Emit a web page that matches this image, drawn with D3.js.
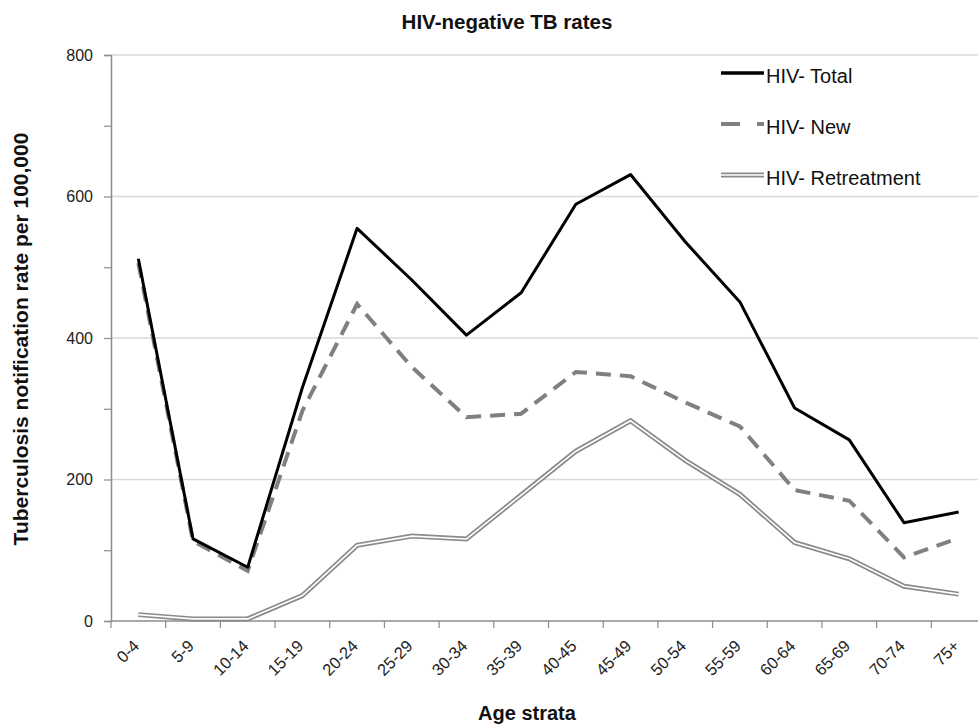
<!DOCTYPE html>
<html><head><meta charset="utf-8">
<script src="https://cdn.jsdelivr.net/npm/d3@7"></script>
<style>body{margin:0;background:#fff;} text{font-family:"Liberation Sans",Arial,sans-serif;}</style>
</head><body><svg id="c" width="978" height="726"></svg>
<script>
const categories = ["0-4","5-9","10-14","15-19","20-24","25-29","30-34","35-39","40-45","45-49","50-54","55-59","60-64","65-69","70-74","75+"];
const totalVals = [512,116,76,330,555,482,404,464,589,631,536,451,301,256,139,154];
const newVals = [506,113,71,297,448,359,288,293,352,346,309,275,185,170,90,117];
const retreatVals = [9,3,3,36,107,120,116,178,240,283,227,179,111,88,49,38];
const yTicks = [0,200,400,600,800];
const seriesNames = ["HIV- Total","HIV- New","HIV- Retreatment"];

const svg = d3.select("#c");
const mLeft = 111, mRight = 986, mTop = 55, mBottom = 621;
const x = d3.scaleBand().domain(categories).range([mLeft, mRight]).padding(0);
const y = d3.scaleLinear().domain([0, 800]).range([mBottom, mTop]);

// gridlines
svg.append("g").selectAll("line").data(yTicks.filter(d => d > 0)).join("line")
  .attr("x1", mLeft).attr("x2", mRight).attr("y1", d => y(d)).attr("y2", d => y(d))
  .attr("stroke", "#d9d9d9").attr("stroke-width", 1.5);

// y axis
const yAxis = d3.axisLeft(y).tickValues(d3.range(0, 801, 100)).tickSize(7)
  .tickFormat(d => yTicks.includes(d) ? d : "");
const gy = svg.append("g").attr("transform", `translate(${mLeft},0)`).call(yAxis);
gy.attr("font-size", null).attr("font-family", null);
gy.select(".domain").attr("stroke", "#8c8c8c").attr("stroke-width", 1.5);
gy.selectAll(".tick line").attr("stroke", "#8c8c8c").attr("stroke-width", 1.2);
gy.selectAll(".tick text").attr("font-size", 16).attr("fill", "#222").attr("x", -18);

// x axis
const gx = svg.append("g").attr("transform", `translate(0,${mBottom})`);
gx.append("line").attr("x1", mLeft).attr("x2", mRight).attr("stroke", "#8c8c8c").attr("stroke-width", 1.5);
gx.selectAll("line.tk").data(d3.range(categories.length + 1)).join("line").attr("class", "tk")
  .attr("x1", i => mLeft + i * x.bandwidth()).attr("x2", i => mLeft + i * x.bandwidth())
  .attr("y1", 0).attr("y2", 7).attr("stroke", "#8c8c8c").attr("stroke-width", 1.2);
gx.selectAll("text").data(categories).join("text")
  .attr("transform", d => `translate(${x(d) + x.bandwidth() / 2 + 2},${26}) rotate(-45)`)
  .attr("text-anchor", "end").attr("font-size", 16.5).attr("fill", "#222").text(d => d);

const line = d3.line().x((d, i) => x(categories[i]) + x.bandwidth() / 2).y(d => y(d));

// retreatment (double line)
svg.append("path").datum(retreatVals).attr("d", line).attr("fill", "none")
  .attr("stroke", "#8a8a8a").attr("stroke-width", 5);
svg.append("path").datum(retreatVals).attr("d", line).attr("fill", "none")
  .attr("stroke", "#fff").attr("stroke-width", 1.6);
// new (dashed)
svg.append("path").datum(newVals).attr("d", line).attr("fill", "none")
  .attr("stroke", "#808080").attr("stroke-width", 4).attr("stroke-dasharray", "15,9");
// total
svg.append("path").datum(totalVals).attr("d", line).attr("fill", "none")
  .attr("stroke", "#000").attr("stroke-width", 3).attr("stroke-linejoin", "round");

// legend
const lg = svg.append("g");
const ly = [73, 124, 175];
lg.append("line").attr("x1", 721).attr("x2", 764).attr("y1", ly[0]).attr("y2", ly[0]).attr("stroke", "#000").attr("stroke-width", 3.5);
lg.append("line").attr("x1", 721).attr("x2", 764).attr("y1", ly[1]).attr("y2", ly[1]).attr("stroke", "#808080").attr("stroke-width", 4).attr("stroke-dasharray", "19,17,7");
lg.append("line").attr("x1", 721).attr("x2", 764).attr("y1", ly[2]).attr("y2", ly[2]).attr("stroke", "#8a8a8a").attr("stroke-width", 5);
lg.append("line").attr("x1", 721).attr("x2", 764).attr("y1", ly[2]).attr("y2", ly[2]).attr("stroke", "#fff").attr("stroke-width", 1.6);
lg.selectAll("text").data(seriesNames).join("text")
  .attr("x", 766).attr("y", (d, i) => ly[i] + 9.5).attr("font-size", 20).attr("fill", "#111").text(d => d);

// titles
svg.append("text").attr("x", 507).attr("y", 28.5).attr("text-anchor", "middle")
  .attr("font-size", 20.5).attr("font-weight", "bold").attr("fill", "#111").text("HIV-negative TB rates");
svg.append("text").attr("transform", `translate(28,339) rotate(-90)`).attr("text-anchor", "middle")
  .attr("font-size", 21).attr("font-weight", "bold").attr("fill", "#111").text("Tuberculosis notification rate per 100,000");
svg.append("text").attr("x", 527).attr("y", 720).attr("text-anchor", "middle")
  .attr("font-size", 20).attr("font-weight", "bold").attr("fill", "#111").text("Age strata");
</script></body></html>
